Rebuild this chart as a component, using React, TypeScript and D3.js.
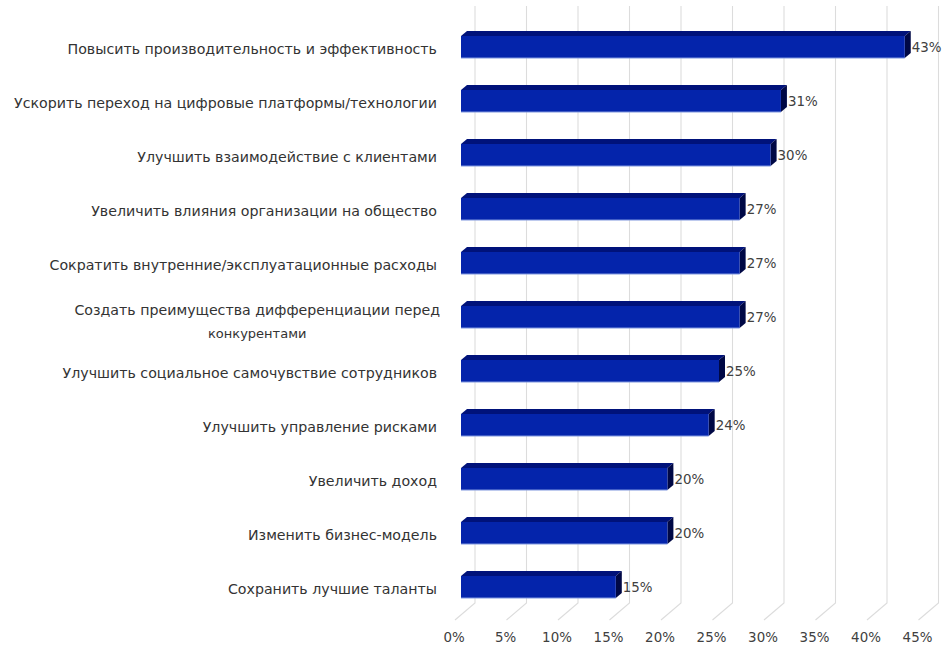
import React, { useEffect, useRef } from "react";
import * as d3 from "d3";

const categories: string[][] = [
  ["Повысить производительность и эффективность"],
  ["Ускорить переход на цифровые платформы/технологии"],
  ["Улучшить взаимодействие с клиентами"],
  ["Увеличить влияния организации на общество"],
  ["Сократить внутренние/эксплуатационные расходы"],
  ["Создать преимущества дифференциации перед", "конкурентами"],
  ["Улучшить социальное самочувствие сотрудников"],
  ["Улучшить управление рисками"],
  ["Увеличить доход"],
  ["Изменить бизнес-модель"],
  ["Сохранить лучшие таланты"],
];
const values: number[] = [43, 31, 30, 27, 27, 27, 25, 24, 20, 20, 15];
const ticks: number[] = [0, 5, 10, 15, 20, 25, 30, 35, 40, 45];

const W = 947;
const H = 650;

export default function App() {
  const ref = useRef<SVGSVGElement>(null);
  useEffect(() => {
    const svg = d3.select(ref.current);
    svg.selectAll("*").remove();
    const font = "'DejaVu Sans', 'Open Sans', sans-serif";
    const fs = 14.2;
    const fsTick = 13.4;

    // back-plane scale
    const xBack = d3.scaleLinear().domain([0, 45]).range([475, 938.5]);
    // bar front-face scale
    const xFront = d3.scaleLinear().domain([0, 45]).range([461, 461 + 45 * 10.32]);
    const yPos = d3
      .scaleBand<number>()
      .domain(d3.range(categories.length))
      .range([36, 36 + 54 * categories.length]);

    const gridTop = 6;
    const gridBottom = 603;
    const floorDx = -20;
    const floorDy = 17;

    const g = svg.append("g");
    ticks.forEach((t) => {
      const x = xBack(t);
      g.append("path")
        .attr("d", `M${x},${gridTop}V${gridBottom}L${x + floorDx},${gridBottom + floorDy}`)
        .attr("fill", "none")
        .attr("stroke", "#dcdcdc")
        .attr("stroke-width", 1.1);
      g.append("text")
        .attr("x", x + floorDx - 1)
        .attr("y", 642)
        .attr("text-anchor", "middle")
        .attr("font-family", font)
        .attr("font-size", fsTick)
        .attr("fill", "#404040")
        .text(`${t}%`);
    });

    const dx = 6;
    const dy = 5;
    const barH = 22;

    values.forEach((v, i) => {
      const x0 = xFront(0);
      const x1 = xFront(v);
      const yTop = yPos(i) as number;
      const yBot = yTop + barH;
      const bg = g.append("g");
      // top face
      bg.append("path")
        .attr("d", `M${x0},${yTop}L${x0 + dx},${yTop - dy}L${x1 + dx},${yTop - dy}L${x1},${yTop}Z`)
        .attr("fill", "#00127a");
      // side face
      bg.append("path")
        .attr("d", `M${x1},${yTop}L${x1 + dx},${yTop - dy}L${x1 + dx},${yBot - dy}L${x1},${yBot}Z`)
        .attr("fill", "#000845");
      // front face
      bg.append("rect")
        .attr("x", x0)
        .attr("y", yTop)
        .attr("width", x1 - x0)
        .attr("height", barH)
        .attr("fill", "#0424ab");
      bg.append("line")
        .attr("x1", x0)
        .attr("x2", x1)
        .attr("y1", yBot)
        .attr("y2", yBot)
        .attr("stroke", "#7e96de")
        .attr("stroke-width", 1);

      // value label
      g.append("text")
        .attr("x", x1 + dx + 1)
        .attr("y", yTop + barH / 2 + 1)
        .attr("dominant-baseline", "middle")
        .attr("font-family", font)
        .attr("font-size", fsTick)
        .attr("fill", "#404040")
        .text(`${v}%`);

      // category label
      const lines = categories[i];
      const cy = yTop + barH / 2 + 3;
      const rightX = 437;
      if (lines.length === 1) {
        g.append("text")
          .attr("x", rightX)
          .attr("y", cy)
          .attr("text-anchor", "end")
          .attr("dominant-baseline", "middle")
          .attr("font-family", font)
          .attr("font-size", fs)
          .attr("fill", "#333")
          .text(lines[0]);
      } else {
        const t1 = g
          .append("text")
          .attr("x", rightX + 3)
          .attr("y", cy - 9)
          .attr("text-anchor", "end")
          .attr("dominant-baseline", "middle")
          .attr("font-family", font)
          .attr("font-size", fs)
          .attr("fill", "#333")
          .text(lines[0]);
        const w = (t1.node() as SVGTextElement).getComputedTextLength();
        g.append("text")
          .attr("x", rightX + 3 - w / 2)
          .attr("y", cy + 14)
          .attr("text-anchor", "middle")
          .attr("dominant-baseline", "middle")
          .attr("font-family", font)
          .attr("font-size", 13)
          .attr("fill", "#333")
          .text(lines[1]);
      }
    });
  }, []);

  return (
    <svg
      ref={ref}
      width={W}
      height={H}
      style={{ position: "absolute", left: 0, top: 0, background: "#fff", display: "block" }}
    />
  );
}
